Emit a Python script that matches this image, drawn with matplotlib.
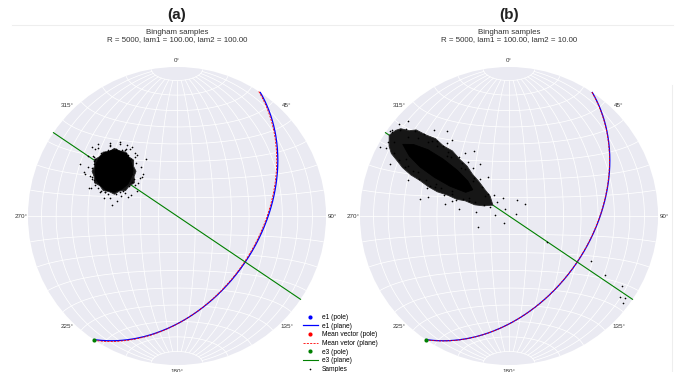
import numpy as np
import matplotlib
matplotlib.use('Agg')
import matplotlib.pyplot as plt
from matplotlib.patches import Circle, Polygon
from matplotlib.lines import Line2D

plt.rcParams['font.family'] = ['Liberation Sans', 'DejaVu Sans']

# ---------------- data ----------------
panel_tags = ['(a)', '(b)']
n_samples = [5000, 5000]
lam1 = [100.00, 100.00]
lam2 = [100.00, 10.00]

# planes (strike, dip, right-hand rule) and poles (trend, plunge), degrees
e1_strike = [34.0, 34.0]
e1_dip = [44.0, 44.0]
e1_trend = [304.0, 304.0]
e1_plunge = [46.0, 46.0]
mean_strike = [33.3, 33.8]
mean_dip = [44.4, 44.1]
mean_trend = [303.3, 303.8]
mean_plunge = [45.6, 45.9]
e3_trend = [214.0, 214.0]
e3_plunge = [0.0, 0.0]
e3_strike = [124.0, 124.0]
e3_dip = [90.0, 90.0]

azimuth_ticks = [0, 45, 90, 135, 180, 225, 270, 315]

# samples, projected stereonet coordinates (x = east, y = north, primitive radius 1)
# core: area where the points fully overlap; fringe: densely speckled area around it
core_a = [(-0.430, 0.443), (-0.383, 0.436), (-0.342, 0.416), (-0.315, 0.383), (-0.302, 0.342),
          (-0.295, 0.302), (-0.309, 0.255), (-0.329, 0.215), (-0.369, 0.181), (-0.423, 0.161),
          (-0.477, 0.174), (-0.517, 0.208), (-0.544, 0.248), (-0.550, 0.295), (-0.544, 0.349),
          (-0.523, 0.389), (-0.490, 0.423)]
fringe_a = [(-0.275, 0.300), (-0.292, 0.334), (-0.291, 0.375), (-0.323, 0.397), (-0.345, 0.429),
            (-0.384, 0.436), (-0.420, 0.454), (-0.455, 0.432), (-0.495, 0.429), (-0.519, 0.399),
            (-0.554, 0.377), (-0.552, 0.335), (-0.570, 0.300), (-0.556, 0.264), (-0.554, 0.223),
            (-0.517, 0.203), (-0.495, 0.171), (-0.456, 0.164), (-0.420, 0.146), (-0.385, 0.168),
            (-0.345, 0.171), (-0.321, 0.201), (-0.286, 0.223), (-0.288, 0.265)]
samples_a = [(-0.30, 0.32), (-0.29, 0.25), (-0.31, 0.38), (-0.33, 0.41), (-0.37, 0.44),
             (-0.41, 0.45), (-0.46, 0.44), (-0.51, 0.42), (-0.55, 0.38), (-0.57, 0.32),
             (-0.57, 0.26), (-0.55, 0.21), (-0.51, 0.17), (-0.46, 0.15), (-0.41, 0.15),
             (-0.36, 0.17), (-0.32, 0.20), (-0.235, 0.26), (-0.268, 0.409), (-0.450, 0.477),
             (-0.336, 0.477), (-0.624, 0.295), (-0.436, 0.074), (-0.60, 0.40), (-0.55, 0.45),
             (-0.28, 0.42), (-0.26, 0.22), (-0.33, 0.13), (-0.49, 0.12), (-0.59, 0.19),
             (-0.62, 0.28), (-0.38, 0.48), (-0.45, 0.49), (-0.23, 0.28), (-0.53, 0.48),
             (-0.30, 0.46), (-0.305, 0.28), (-0.34, 0.425), (-0.48, 0.43), (-0.56, 0.35),
             (-0.56, 0.24), (-0.48, 0.16), (-0.38, 0.16), (-0.30, 0.23), (-0.315, 0.35),
             (-0.53, 0.185), (-0.43, 0.17), (-0.565, 0.40), (-0.34, 0.45), (-0.27, 0.17),
             (-0.65, 0.35), (-0.40, 0.10), (-0.57, 0.46), (-0.21, 0.38),
             (-0.243, 0.331), (-0.285, 0.395), (-0.314, 0.452), (-0.385, 0.497), (-0.450, 0.467),
             (-0.529, 0.456), (-0.559, 0.398), (-0.597, 0.331), (-0.582, 0.271), (-0.576, 0.191),
             (-0.518, 0.161), (-0.452, 0.118), (-0.376, 0.136), (-0.311, 0.144), (-0.285, 0.205),
             (-0.246, 0.253), (-0.274, 0.353), (-0.352, 0.445), (-0.560, 0.366), (-0.570, 0.245),
             (-0.486, 0.160), (-0.352, 0.155)]

core_b = [(-0.713, 0.481), (-0.641, 0.480), (-0.544, 0.445), (-0.442, 0.382), (-0.347, 0.307),
          (-0.276, 0.234), (-0.243, 0.176), (-0.291, 0.159), (-0.396, 0.200), (-0.500, 0.259),
          (-0.598, 0.330), (-0.669, 0.403)]
fringe_b = [(-0.804, 0.542), (-0.760, 0.575), (-0.726, 0.586), (-0.670, 0.572), (-0.623, 0.578),
            (-0.560, 0.545), (-0.493, 0.519), (-0.440, 0.470), (-0.380, 0.437), (-0.330, 0.380),
            (-0.281, 0.334), (-0.245, 0.280), (-0.204, 0.234), (-0.160, 0.175), (-0.127, 0.134),
            (-0.108, 0.073), (-0.171, 0.068), (-0.230, 0.075), (-0.294, 0.102), (-0.350, 0.112),
            (-0.412, 0.140), (-0.480, 0.162), (-0.542, 0.197), (-0.600, 0.240), (-0.658, 0.275),
            (-0.715, 0.325), (-0.757, 0.379), (-0.790, 0.420), (-0.805, 0.470)]
samples_b = [(-0.787, 0.567), (-0.810, 0.498), (-0.732, 0.578), (-0.690, 0.586), (-0.775, 0.426),
             (-0.629, 0.569), (-0.736, 0.375), (-0.613, 0.522), (-0.569, 0.552), (-0.697, 0.326),
             (-0.544, 0.499), (-0.641, 0.300), (-0.480, 0.504), (-0.480, 0.468), (-0.604, 0.250),
             (-0.419, 0.488), (-0.558, 0.244), (-0.408, 0.432), (-0.548, 0.189), (-0.387, 0.393),
             (-0.498, 0.192), (-0.337, 0.396), (-0.454, 0.185), (-0.314, 0.356), (-0.438, 0.138),
             (-0.292, 0.318), (-0.382, 0.149), (-0.242, 0.320), (-0.359, 0.110), (-0.237, 0.256),
             (-0.310, 0.113), (-0.193, 0.251), (-0.271, 0.099), (-0.182, 0.195), (-0.227, 0.093),
             (-0.144, 0.145), (-0.166, 0.076), (-0.099, 0.139), (-0.127, 0.061), (-0.082, 0.092),
             (-0.679, 0.638), (-0.802, 0.348), (-0.501, 0.580), (-0.681, 0.242), (-0.380, 0.509),
             (-0.543, 0.125), (-0.292, 0.426), (-0.427, 0.083), (-0.197, 0.350), (-0.333, 0.044),
             (-0.138, 0.261), (-0.222, 0.029), (-0.038, 0.122), (-0.094, 0.004), (-0.030, 0.045),
             (-0.034, -0.050), (0.047, 0.016), (-0.413, 0.568), (-0.598, 0.114), (-0.236, 0.437),
             (-0.800, 0.570), (-0.785, 0.580), (-0.866, 0.460), (0.745, -0.544), (0.765, -0.584),
             (0.644, -0.396), (0.758, -0.470), (0.255, -0.174), (0.107, 0.081), (0.054, 0.107),
             (-0.208, -0.074), (0.780, -0.550), (0.550, -0.300),
             (-0.774, 0.497), (-0.679, 0.531), (-0.694, 0.384), (-0.516, 0.505), (-0.608, 0.296),
             (-0.414, 0.406), (-0.492, 0.217), (-0.325, 0.322), (-0.382, 0.167), (-0.240, 0.234),
             (-0.268, 0.121), (-0.163, 0.134), (-0.444, 0.468), (-0.678, 0.336), (-0.529, 0.199),
             (-0.272, 0.364), (-0.380, 0.099), (-0.740, 0.620), (-0.824, 0.459)]

cores = [core_a, core_b]
fringes = [fringe_a, fringe_b]
samples = [samples_a, samples_b]

legend_labels = ['e1 (pole)', 'e1 (plane)', 'Mean vector (pole)', 'Mean vetor (plane)',
                 'e3 (pole)', 'e3 (plane)', 'Samples']

# ---------------- projection helpers (lower hemisphere, equal area) ----------------
def project(E, N, D):
    s = np.sqrt(1.0 + D)
    return E / s, N / s


def line_xy(trend, plunge):
    t, p = np.radians(trend), np.radians(plunge)
    return project(np.cos(p) * np.sin(t), np.cos(p) * np.cos(t), np.sin(p))


def plane_xy(strike, dip):
    s, d = np.radians(strike), np.radians(dip)
    a = np.radians(np.linspace(0, 180, 361))
    sv = np.array([np.sin(s), np.cos(s), 0.0])
    dv = np.array([np.cos(d) * np.sin(s + np.pi / 2), np.cos(d) * np.cos(s + np.pi / 2), np.sin(d)])
    v = np.outer(np.cos(a), sv) + np.outer(np.sin(a), dv)
    return project(v[:, 0], v[:, 1], v[:, 2])


def draw_grid(ax, clip):
    lat = np.radians(np.linspace(-80, 80, 200))
    for lon_d in range(-80, 81, 10):
        lon = np.radians(lon_d)
        x, y = project(np.cos(lat) * np.sin(lon), np.sin(lat), np.cos(lat) * np.cos(lon))
        ln, = ax.plot(x, y, color='white', lw=0.55, zorder=1)
        ln.set_clip_path(clip)
    lon = np.radians(np.linspace(-90, 90, 200))
    for lat_d in range(-80, 81, 10):
        la = np.radians(lat_d)
        x, y = project(np.cos(la) * np.sin(lon), np.full_like(lon, np.sin(la)), np.cos(la) * np.cos(lon))
        ln, = ax.plot(x, y, color='white', lw=0.55, zorder=1)
        ln.set_clip_path(clip)


# ---------------- figure ----------------
W, H = 680, 372
fig = plt.figure(figsize=(W / 100, H / 100), dpi=100)
R = 149
centers = [(177, 216), (509, 216)]
txt_col = '#333333'

handles = None
for i, (cx, cy) in enumerate(centers):
    ax = fig.add_axes([(cx - R) / W, (H - cy - R) / H, 2 * R / W, 2 * R / H])
    ax.set_xlim(-1, 1)
    ax.set_ylim(-1, 1)
    ax.axis('off')
    circ = Circle((0, 0), 1, facecolor='#EAEAF2', edgecolor='none', zorder=0)
    ax.add_patch(circ)
    draw_grid(ax, circ)

    h = []
    x, y = line_xy(e1_trend[i], e1_plunge[i])
    h += ax.plot(x, y, 'o', color='blue', ms=3, mew=0, zorder=3)
    x, y = plane_xy(e1_strike[i], e1_dip[i])
    h += ax.plot(x, y, '-', color='blue', lw=0.9, zorder=3)
    x, y = line_xy(mean_trend[i], mean_plunge[i])
    h += ax.plot(x, y, 'o', color='red', ms=3, mew=0, zorder=3)
    x, y = plane_xy(mean_strike[i], mean_dip[i])
    h += ax.plot(x, y, '--', color='red', lw=0.6, dashes=(2.5, 1.5), zorder=3)
    x, y = line_xy(e3_trend[i], e3_plunge[i])
    h += ax.plot(x, y, 'o', color='green', ms=3, mew=0, zorder=3)
    x, y = plane_xy(e3_strike[i], e3_dip[i])
    h += ax.plot(x, y, '-', color='green', lw=0.8, zorder=3)

    ax.add_patch(Polygon(fringes[i], closed=True, facecolor='#161616', edgecolor='#2a2a2a',
                         lw=0.6, zorder=4))
    ax.add_patch(Polygon(cores[i], closed=True, facecolor='black', edgecolor='black',
                         lw=0.6, zorder=4.5))
    sx, sy = zip(*samples[i])
    h += ax.plot(sx, sy, 'o', color='black', ms=1.2, mew=0, zorder=5)
    if handles is None:
        handles = h

    for az in azimuth_ticks:
        a = np.radians(az)
        ax.text(1.045 * np.sin(a), 1.045 * np.cos(a), f'{az}°', ha='center', va='center',
                fontsize=4.5, color=txt_col, clip_on=False)

    fig.text(cx / W, 1 - 15 / H, panel_tags[i], ha='center', va='center',
             fontsize=11, fontweight='bold', color='#222222')
    fig.text(cx / W, 1 - 36 / H,
             f'Bingham samples\nR = {n_samples[i]}, lam1 = {lam1[i]:.2f}, lam2 = {lam2[i]:.2f}',
             ha='center', va='center', fontsize=5.7, color=txt_col, linespacing=1.05)

# faint panel borders
fig.add_artist(Line2D([12 / W, 673 / W], [1 - 25 / H, 1 - 25 / H], color='#eeeeee', lw=0.8))
fig.add_artist(Line2D([672 / W, 672 / W], [1 - 85 / H, 0], color='#eeeeee', lw=0.8))

fig.legend(handles, legend_labels, loc='upper left', bbox_to_anchor=(303 / W, 1 - 314 / H),
           frameon=False, fontsize=4.75, handlelength=2.2, handletextpad=0.7,
           labelspacing=0.25, borderpad=0, borderaxespad=0, markerscale=1.0)

fig.savefig('out.png', dpi=100, facecolor='white')
